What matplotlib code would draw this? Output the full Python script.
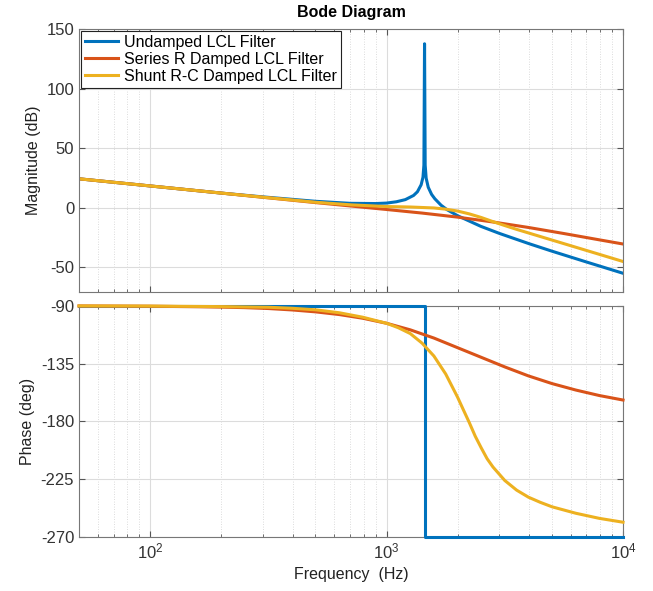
import matplotlib
matplotlib.use("Agg")
import matplotlib.pyplot as plt
from matplotlib.ticker import LogLocator, NullFormatter, MultipleLocator

plt.rcParams['font.family'] = ['Liberation Sans', 'DejaVu Sans']
plt.rcParams['axes.unicode_minus'] = False

# --- Datos ---
labels = ["Undamped LCL Filter", "Series R Damped LCL Filter", "Shunt R-C Damped LCL Filter"]
colors = ["#0072BD", "#D95319", "#EDB120"]

# Magnitud (dB)
undamped_mag_f = [50, 100, 200, 300, 500, 700, 900, 1000, 1100, 1200, 1300, 1350, 1400, 1425,
                  1438, 1447, 1456, 1470, 1500, 1550, 1600, 1700, 1800, 2000, 2500, 3000, 4000,
                  5000, 7000, 10000]
undamped_mag_db = [24.5, 18.5, 12.5, 9.3, 5.6, 3.9, 3.7, 4.1, 5.2, 7.0, 10.5, 13.6, 19.5, 25.8,
                   36, 138, 36, 25, 17.4, 11.4, 7.7, 2.3, -1.4, -6.6, -15.4, -21.4, -30,
                   -36.3, -45.4, -54.9]

series_mag_f = [50, 100, 200, 316, 501, 708, 1000, 1413, 1995, 2818, 3981, 5623, 7943, 10000]
series_mag_db = [24.5, 18.5, 12.5, 8.5, 4.5, 1.6, -1.3, -4.3, -7.7, -11.8, -16.4, -21.5, -26.8, -30.3]

shunt_mag_f = [50, 100, 200, 316, 501, 708, 1000, 1259, 1585, 1778, 1995, 2239, 2512, 2818,
               3162, 3548, 3981, 5012, 6310, 7943, 10000]
shunt_mag_db = [24.5, 18.5, 12.5, 8.6, 4.8, 2.6, 1.2, 0.8, 0.0, -1.0, -2.6, -5.0, -8.0, -11.5,
                -14.8, -18.0, -21.0, -27.0, -33.0, -39.0, -45.0]

# Fase (deg)
undamped_ph_f = [50, 1447, 1447, 10000]
undamped_ph_deg = [-90, -90, -270, -270]

series_ph_f = [50, 100, 158, 200, 251, 316, 398, 501, 631, 794, 1000, 1259, 1585, 1995, 2512,
               3162, 3981, 5012, 6310, 7943, 10000]
series_ph_deg = [-90, -90.2, -90.6, -90.9, -91.3, -92.0, -93.1, -94.6, -96.7, -99.6, -103.5,
                 -108.6, -115.0, -122.5, -130.0, -137.5, -144.5, -150.5, -155.5, -159.8, -163.3]

shunt_ph_f = [50, 100, 200, 316, 398, 501, 631, 794, 1000, 1122, 1259, 1413, 1585, 1778, 1995,
              2113, 2239, 2371, 2512, 2661, 2818, 3162, 3548, 3981, 4467, 5012, 6310, 7943, 10000]
shunt_ph_deg = [-90, -90.1, -90.5, -91.0, -91.8, -93.0, -95.3, -98.8, -103.5, -107.0, -111.5,
                -119.0, -129.0, -143.0, -161.0, -171.0, -181.0, -191.5, -200.5, -209.0, -215.5,
                -226.0, -233.5, -239.0, -243.0, -246.5, -251.5, -255.5, -258.5]

# --- Figura ---
fig = plt.figure(figsize=(6.53, 5.91), dpi=100)
ax1 = fig.add_axes([0.1210, 0.5064, 0.8331, 0.4437])
ax2 = fig.add_axes([0.1210, 0.0914, 0.8331, 0.3909], sharex=ax1)

mag_data = [(undamped_mag_f, undamped_mag_db), (series_mag_f, series_mag_db), (shunt_mag_f, shunt_mag_db)]
ph_data = [(undamped_ph_f, undamped_ph_deg), (series_ph_f, series_ph_deg), (shunt_ph_f, shunt_ph_deg)]

for (f, m), c, lab in zip(mag_data, colors, labels):
    ax1.semilogx(f, m, color=c, lw=2.2, label=lab)
for i, ((f, p), c) in enumerate(zip(ph_data, colors)):
    # las curvas van pegadas a los bordes: sin recorte y encima del marco
    ax2.semilogx(f, p, color=c, lw=2.2, clip_on=False, zorder=3 + 0.1 * i)

ax1.set_xlim(50, 10000)
ax1.set_ylim(-70.4, 150)
ax1.yaxis.set_major_locator(MultipleLocator(50))
ax2.set_ylim(-270, -90)
ax2.yaxis.set_major_locator(MultipleLocator(45))

for ax in (ax1, ax2):
    ax.xaxis.set_major_locator(LogLocator(base=10))
    ax.xaxis.set_minor_locator(LogLocator(base=10, subs=range(2, 10)))
    ax.xaxis.set_minor_formatter(NullFormatter())
    ax.grid(True, which='major', color='#dcdcdc', lw=0.8)
    ax.grid(True, which='minor', axis='x', color='#d0d0d0', lw=0.6, ls=(0, (1, 2)))
    ax.set_axisbelow(True)
    ax.tick_params(which='both', direction='in', top=True, right=True,
                   colors='#555555', labelcolor='#333333', labelsize=12)
    ax.tick_params(which='major', length=4)
    ax.tick_params(which='minor', length=2)
    for s in ax.spines.values():
        s.set_color('#777777')
        s.set_linewidth(0.8)

ax1.tick_params(labelbottom=False)

ax1.set_title("Bode Diagram", fontsize=11.5, fontweight='bold', pad=9)
ax1.set_ylabel("Magnitude (dB)", fontsize=11.5, color='#222222')
ax2.set_ylabel("Phase (deg)", fontsize=11.5, color='#222222')
ax2.set_xlabel("Frequency  (Hz)", fontsize=11.5, color='#222222')
fig.align_ylabels([ax1, ax2])

leg = ax1.legend(loc='upper left', bbox_to_anchor=(0, 1), borderaxespad=0.1, fancybox=False,
                 framealpha=1, edgecolor='#222222', fontsize=11.5, handlelength=2.1,
                 handletextpad=0.35, labelspacing=0.12, borderpad=0.25)
leg.get_frame().set_linewidth(0.8)

fig.savefig("out.png", dpi=100)
